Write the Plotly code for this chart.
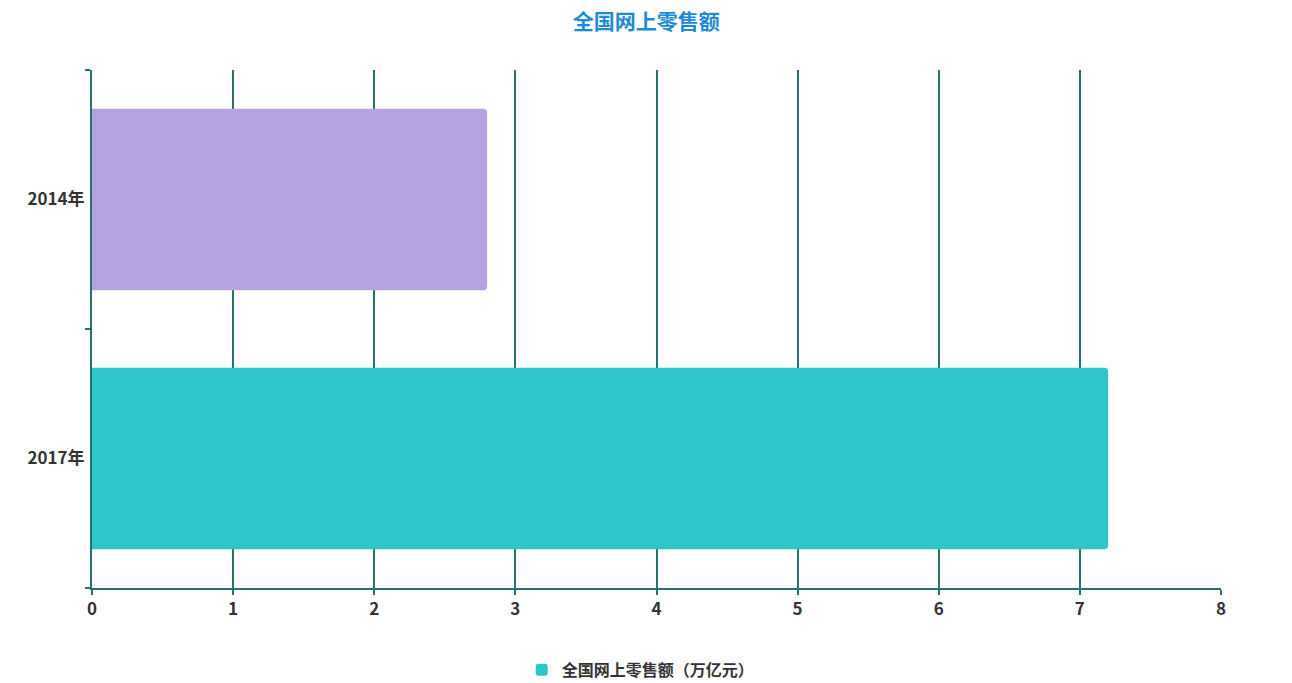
import plotly.graph_objects as go

# 全国网上零售额 (万亿元)
years = ["2017年", "2014年"]
sales = [7.2, 2.8]
bar_colors = ["#2ec7c9", "#b6a2de"]
series_name = "全国网上零售额（万亿元）"
x_ticks = [0, 1, 2, 3, 4, 5, 6, 7, 8]

AXIS_COLOR = "#26706f"
TEXT_COLOR = "#333333"
FONT = "Microsoft YaHei, Noto Sans CJK SC, sans-serif"

fig = go.Figure(
    go.Bar(
        y=years,
        x=sales,
        orientation="h",
        name=series_name,
        marker=dict(color=bar_colors, line=dict(width=0)),
        showlegend=True,
    )
)

# page body has an 8px margin, so the figure is sized a little smaller
fig.update_layout(
    width=1284,
    height=675,
    paper_bgcolor="white",
    plot_bgcolor="white",
    font=dict(family=FONT, color=TEXT_COLOR, size=16),
    title=dict(
        text="全国网上零售额",
        x=0.497,
        xanchor="center",
        y=0.98,
        yanchor="middle",
        font=dict(family=FONT, size=21, color="#1b8bd3", weight="bold"),
    ),
    margin=dict(l=84, r=71, t=62, b=95, autoexpand=False),
    bargap=0.3,
    barcornerradius=4,
    legend=dict(
        orientation="h",
        x=0.486,
        xanchor="center",
        y=-0.158,
        yanchor="middle",
        font=dict(family=FONT, size=16, color=TEXT_COLOR, weight="bold"),
    ),
)

fig.update_xaxes(
    range=[0, 8],
    tickvals=x_ticks,
    showgrid=True,
    gridcolor=AXIS_COLOR,
    gridwidth=2,
    showline=True,
    linecolor=AXIS_COLOR,
    linewidth=2,
    ticks="outside",
    ticklen=5,
    tickwidth=2,
    tickcolor=AXIS_COLOR,
    zeroline=False,
    automargin=False,
    tickfont=dict(family=FONT, size=17, color=TEXT_COLOR, weight="bold"),
    fixedrange=True,
)

fig.update_yaxes(
    type="category",
    showgrid=False,
    showline=True,
    linecolor=AXIS_COLOR,
    linewidth=2,
    ticks="outside",
    tickson="boundaries",
    ticklen=5,
    tickwidth=2,
    tickcolor=AXIS_COLOR,
    ticklabelstandoff=2,
    automargin=False,
    tickfont=dict(family=FONT, size=17, color=TEXT_COLOR, weight="bold"),
    fixedrange=True,
)

fig.write_html("out.html")
